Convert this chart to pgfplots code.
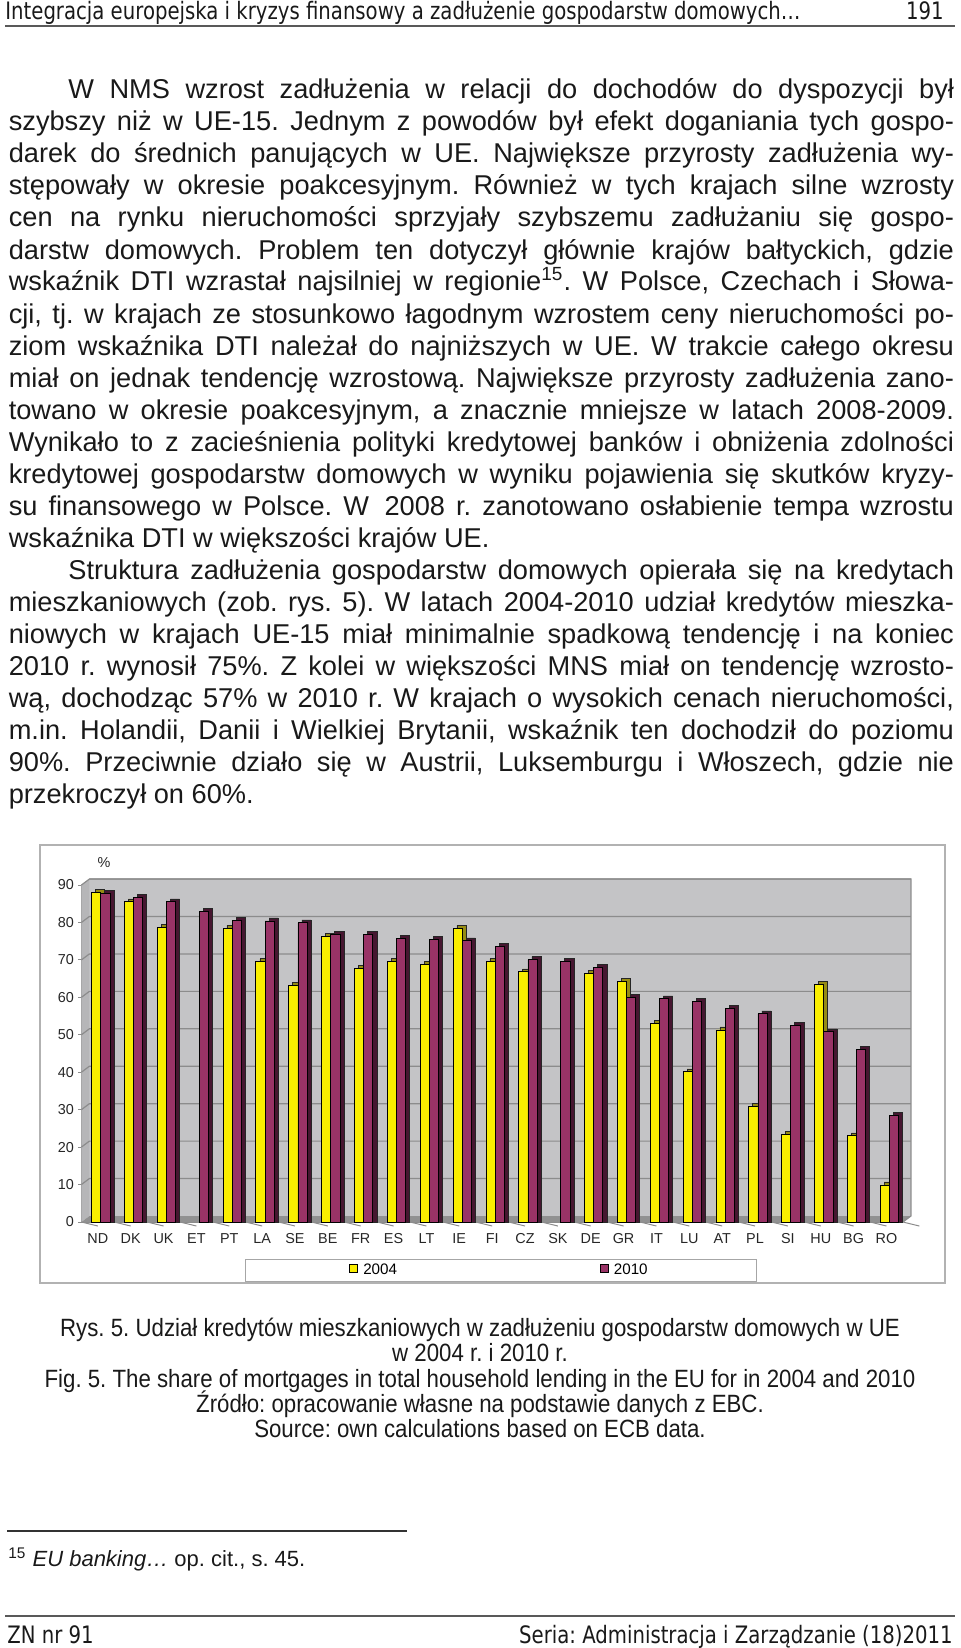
\documentclass[border=0pt]{standalone}
\usepackage{fontspec}
\setmainfont{Liberation Sans}
\newfontfamily\hdfont[FakeStretch=0.82]{DejaVu Sans}
\newfontfamily\capfont[FakeStretch=0.89]{Liberation Sans}
\usepackage{pgfplots}
\usepackage{pgfplotstable}
\pgfplotsset{compat=1.18}
\frenchspacing
\definecolor{yel}{RGB}{250,238,0}
\definecolor{yelside}{RGB}{150,140,20}
\definecolor{pur}{RGB}{153,51,102}
\definecolor{purside}{RGB}{70,22,48}
\definecolor{wallc}{RGB}{196,196,198}
\definecolor{gridc}{RGB}{140,140,140}
\definecolor{floorc}{RGB}{145,145,145}
\definecolor{txt}{RGB}{25,25,25}

\pgfplotstableread{
x lab a b
0 ND 88.0 87.8
1 DK 85.5 86.6
2 UK 78.7 85.5
3 ET nan 83.0
4 PT 78.4 80.6
5 LA 69.5 80.4
6 SE 63.3 79.9
7 BE 76.2 76.8
8 FR 67.8 76.9
9 ES 69.7 75.8
10 LT 68.8 75.5
11 IE 78.4 75.1
12 FI 69.5 73.7
13 CZ 66.8 70.1
14 SK nan 69.7
15 DE 66.3 68.1
16 GR 64.2 59.9
17 IT 53.0 59.6
18 LU 40.1 59.0
19 AT 51.3 57.0
20 PL 30.8 55.6
21 SI 23.5 52.5
22 HU 63.5 50.8
23 BG 23.0 46.0
24 RO 9.9 28.4
}\data

\newcommand\bodyf{\fontsize{13.6}{16}\selectfont}
\newcommand\J[2]{\node[anchor=base west,inner sep=0pt,text=txt] at (8.4,#1) {\bodyf\makebox[472.6pt][s]{#2}};}
\newcommand\JI[2]{\node[anchor=base west,inner sep=0pt,text=txt] at (68,#1) {\bodyf\makebox[442.85pt][s]{#2}};}
\newcommand\LL[3]{\node[anchor=base west,inner sep=0pt,text=txt] at (#1,#2) {\bodyf #3};}
\newcommand\CL[2]{\node[anchor=base,inner sep=0pt,text=txt] at (480,#1) {\capfont\fontsize{12.5}{14}\selectfont #2};}

\begin{document}
\begin{tikzpicture}
\begin{scope}[x=0.5pt,y=-0.5pt]
% header
\node[anchor=base west,inner sep=0pt,text=txt] at (5,20) {\hdfont\fontsize{12}{14}\selectfont Integracja europejska i kryzys finansowy a zadłużenie gospodarstw domowych…};
\node[anchor=base east,inner sep=0pt,text=txt] at (944,20) {\hdfont\fontsize{12}{14}\selectfont 191};
\draw[line width=1pt, black!65] (5,26) -- (955,26);
% paragraph 1
\JI{99}{W NMS wzrost zadłużenia w relacji do dochodów do dyspozycji był}
\J{131}{szybszy niż w UE-15. Jednym z powodów był efekt doganiania tych gospo-}
\J{163}{darek do średnich panujących w UE. Największe przyrosty zadłużenia wy-}
\J{195}{stępowały w okresie poakcesyjnym. Również w tych krajach silne wzrosty}
\J{227}{cen na rynku nieruchomości sprzyjały szybszemu zadłużaniu się gospo-}
\J{259}{darstw domowych. Problem ten dotyczył głównie krajów bałtyckich, gdzie}
\J{291}{wskaźnik DTI wzrastał najsilniej w regionie\textsuperscript{15}. W Polsce, Czechach i Słowa-}
\J{323}{cji, tj. w krajach ze stosunkowo łagodnym wzrostem ceny nieruchomości po-}
\J{355}{ziom wskaźnika DTI należał do najniższych w UE. W trakcie całego okresu}
\J{387}{miał on jednak tendencję wzrostową. Największe przyrosty zadłużenia zano-}
\J{419}{towano w okresie poakcesyjnym, a znacznie mniejsze w latach 2008-2009.}
\J{451}{Wynikało to z zacieśnienia polityki kredytowej banków i obniżenia zdolności}
\J{483}{kredytowej gospodarstw domowych w wyniku pojawienia się skutków kryzy-}
\J{515}{su finansowego w Polsce. W\, 2008 r. zanotowano osłabienie tempa wzrostu}
\LL{8.4}{547}{wskaźnika DTI w większości krajów UE.}
% paragraph 2
\JI{579}{Struktura zadłużenia gospodarstw domowych opierała się na kredytach}
\J{611}{mieszkaniowych (zob. rys. 5). W latach 2004-2010 udział kredytów mieszka-}
\J{643}{niowych w krajach UE-15 miał minimalnie spadkową tendencję i na koniec}
\J{675}{2010 r. wynosił 75\%. Z kolei w większości MNS miał on tendencję wzrosto-}
\J{707}{wą, dochodząc 57\% w 2010 r. W krajach o wysokich cenach nieruchomości,}
\J{739}{m.in. Holandii, Danii i Wielkiej Brytanii, wskaźnik ten dochodził do poziomu}
\J{771}{90\%. Przeciwnie działo się w Austrii, Luksemburgu i Włoszech, gdzie nie}
\LL{8.4}{803}{przekroczył on 60\%.}
% chart frame
\draw[line width=0.8pt, black!30] (40,845) rectangle (945,1283);
% captions
\CL{1336}{Rys. 5. Udział kredytów mieszkaniowych w zadłużeniu gospodarstw domowych w UE}
\CL{1361}{w 2004 r. i 2010 r.}
\CL{1387}{Fig. 5. The share of mortgages in total household lending in the EU for in 2004 and 2010}
\CL{1412}{Źródło: opracowanie własne na podstawie danych z EBC.}
\CL{1437}{Source: own calculations based on ECB data.}
% footnote
\draw[line width=0.6pt, black!80] (7,1531) -- (407,1531);
\node[anchor=base west,inner sep=0pt,text=txt] at (8,1566) {\fontsize{11}{13}\selectfont\textsuperscript{15} \textit{EU banking…} op. cit., s. 45.};
% footer
\draw[line width=1pt, black!65] (5,1616) -- (955,1616);
\node[anchor=base west,inner sep=0pt,text=txt] at (7,1643) {\hdfont\fontsize{12}{14}\selectfont ZN nr 91};
\node[anchor=base east,inner sep=0pt,text=txt] at (953,1643) {\hdfont\fontsize{12}{14}\selectfont Seria: Administracja i Zarządzanie (18)2011};
\end{scope}

\begin{axis}[
  at={(40.7pt,-611pt)}, anchor=south west,
  scale only axis, width=410.75pt, height=168.5pt,
  xmin=-0.5, xmax=24.5, ymin=0, ymax=90,
  clip=false,
  axis x line*=bottom, axis y line*=left,
  axis line style={draw=black!45, line width=0.5pt},
  xtick={0,...,24},
  xticklabels={ND,DK,UK,ET,PT,LA,SE,BE,FR,ES,LT,IE,FI,CZ,SK,DE,GR,IT,LU,AT,PL,SI,HU,BG,RO},
  xtick style={draw=none},
  ytick={0,10,...,90},
  yticklabels={0,10,20,30,40,50,60,70,80,90},
  ytick style={draw=black!45, line width=0.5pt},
  tick align=outside, major tick length=1.5pt,
  ticklabel style={font=\fontsize{7.2}{8}\selectfont, text=black!85},
  xticklabel style={inner sep=0pt, anchor=north, yshift=-4pt},
  yticklabel style={inner sep=0pt, anchor=east, xshift=-2pt},
  legend columns=2,
  legend image code/.code={\draw[#1, draw=black, line width=0.4pt] (0pt,-0.6pt) rectangle (4pt,3.4pt);},
  legend style={at={(0.1991,-0.1098)}, anchor=north west, draw=black!35, line width=0.5pt,
    inner xsep=52pt, inner ysep=2pt, font=\fontsize{7.6}{9}\selectfont,
    /tikz/every even column/.append style={column sep=99pt},
    nodes={inner xsep=2.5pt, inner ysep=0pt, text height=5.5pt, text depth=1.5pt}},
]
% walls and floor
\fill[wallc] ([shift={(4pt,3pt)}]axis cs:-0.5,0) rectangle ([shift={(4pt,3pt)}]axis cs:24.5,90);
\fill[wallc!93!black] (axis cs:-0.5,0) -- ([shift={(4pt,3pt)}]axis cs:-0.5,0) -- ([shift={(4pt,3pt)}]axis cs:-0.5,90) -- (axis cs:-0.5,90) -- cycle;
\fill[floorc] (axis cs:-0.5,0) -- (axis cs:24.5,0) -- ([shift={(4pt,3pt)}]axis cs:24.5,0) -- ([shift={(4pt,3pt)}]axis cs:-0.5,0) -- cycle;
\pgfplotsinvokeforeach{10,20,...,90}{
  \draw[gridc, line width=0.6pt] (axis cs:-0.5,#1) -- ([shift={(4pt,3pt)}]axis cs:-0.5,#1) -- ([shift={(4pt,3pt)}]axis cs:24.5,#1);
}
\draw[gridc, line width=0.6pt] ([shift={(4pt,3pt)}]axis cs:-0.5,90) -- ([shift={(4pt,3pt)}]axis cs:24.5,90) -- ([shift={(4pt,3pt)}]axis cs:24.5,0) -- (axis cs:24.5,0);
\pgfplotsinvokeforeach{-0.5,0.5,...,24.5}{
  \draw[black!45, line width=0.5pt] (axis cs:#1,0) -- ++(0,-2pt);
}
% bars
\addplot[ybar, bar width=0.28, bar shift=0.07, fill=yelside, draw=black!85, line width=0.3pt, forget plot] table[x=x, y expr=\thisrow{a}+0.8] {\data};
\addplot[ybar, bar width=0.28, bar shift=-0.05, fill=yel, draw=black, line width=0.4pt, forget plot] table[x=x, y=a] {\data};
\addplot[ybar, bar width=0.28, bar shift=0.35, fill=purside, draw=black!85, line width=0.3pt, forget plot] table[x=x, y expr=\thisrow{b}+0.8] {\data};
\addplot[ybar, bar width=0.28, bar shift=0.23, fill=pur, draw=black, line width=0.4pt, forget plot] table[x=x, y=b] {\data};
\node[font=\fontsize{7.2}{8}\selectfont, text=black!85] at (rel axis cs:0.0275,1.068) {\%};
\addlegendimage{fill=yel}
\addlegendentry{2004}
\addlegendimage{fill=pur}
\addlegendentry{2010}
\end{axis}

\pgfresetboundingbox
\useasboundingbox (0pt,0pt) rectangle (480pt,-824pt);
\end{tikzpicture}
\end{document}
